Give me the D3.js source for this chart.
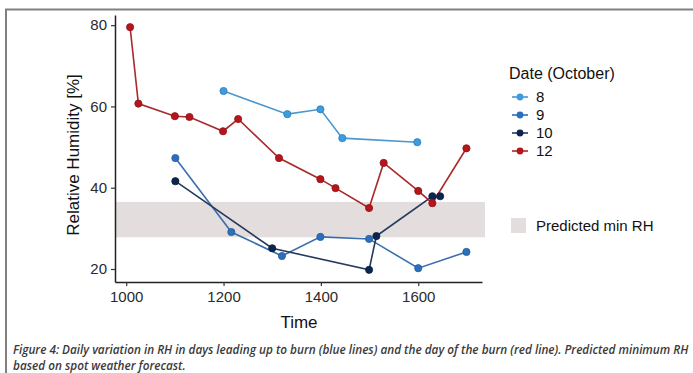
<!DOCTYPE html>
<html>
<head>
<meta charset="utf-8">
<script src="https://cdn.jsdelivr.net/npm/d3@7"></script>
<style>
  body { margin: 0; background: #fff; }
  svg { display: block; }
</style>
</head>
<body>
<div id="chart"></div>
<script>
// values
var days = ["8", "9", "10", "12"];
var dayColors = ["#3d9be0", "#2c6fbd", "#0c2550", "#b5161b"];
var lineColors = ["#4b97cf", "#3a6fae", "#253a5e", "#a82a2a"];

var time8 = [1200, 1331, 1399, 1444, 1598];
var rh8 = [63.8, 58.1, 59.3, 52.2, 51.2];
var time9 = [1101, 1216, 1320, 1399, 1499, 1600, 1699];
var rh9 = [47.3, 29.1, 23.2, 27.9, 27.4, 20.2, 24.2];
var time10 = [1101, 1300, 1499, 1514, 1629, 1645];
var rh10 = [41.6, 25.1, 19.8, 28.1, 37.9, 37.9];
var time12 = [1008, 1025, 1100, 1130, 1199, 1230, 1314, 1399, 1430, 1499, 1529, 1600, 1629, 1699];
var rh12 = [79.5, 60.7, 57.6, 57.4, 53.9, 56.9, 47.3, 42.1, 39.9, 35.0, 46.1, 39.2, 36.2, 49.7];

var bandLow = 27.8, bandHigh = 36.5;
var xTicks = [1000, 1200, 1400, 1600];
var yTicks = [20, 40, 60, 80];

var caption1 = "Figure 4: Daily variation in RH in days leading up to burn (blue lines) and the day of the burn (red line). Predicted minimum RH";
var caption2 = "based on spot weather forecast.";

var series = [
  { day: "8", t: time8, v: rh8 },
  { day: "9", t: time9, v: rh9 },
  { day: "10", t: time10, v: rh10 },
  { day: "12", t: time12, v: rh12 }
].map(function (s, i) {
  return {
    day: s.day, fill: dayColors[i], stroke: lineColors[i],
    pts: s.t.map(function (t, j) { return { t: t, v: s.v[j] }; })
  };
});

var W = 693, H = 373;
var svg = d3.select("#chart").append("svg")
  .attr("width", W).attr("height", H)
  .style("font-family", "'Liberation Sans', Arial, sans-serif");

// frame around the figure
svg.append("path")
  .attr("d", "M6," + H + "V9.5H" + W)
  .attr("fill", "none").attr("stroke", "#808080").attr("stroke-width", 2);

var x = d3.scaleLinear().domain([977, 1731]).range([115, 482]);
var y = d3.scaleLinear().domain([16.8, 82.5]).range([282, 15]);

// predicted band
svg.append("rect")
  .attr("x", 116).attr("width", 485 - 116)
  .attr("y", y(bandHigh)).attr("height", y(bandLow) - y(bandHigh))
  .attr("fill", "#e3dddd");

// axes
var xAxis = svg.append("g")
  .attr("transform", "translate(0,282)")
  .call(d3.axisBottom(x).tickValues(xTicks).tickFormat(d3.format("d"))
    .tickSize(4).tickSizeOuter(0).tickPadding(5));
var yAxis = svg.append("g")
  .attr("transform", "translate(115,0)")
  .call(d3.axisLeft(y).tickValues(yTicks).tickSize(4).tickSizeOuter(0).tickPadding(4));
[xAxis, yAxis].forEach(function (g) {
  g.select(".domain").attr("stroke", "#222").attr("stroke-width", 1.5);
  g.selectAll(".tick line").attr("stroke", "#333").attr("stroke-width", 1.2);
  g.selectAll(".tick text").attr("fill", "#2a2a2a").style("font-size", "15px")
    .style("font-family", "'Liberation Sans', Arial, sans-serif");
});

// lines and points
var line = d3.line().x(function (d) { return x(d.t); }).y(function (d) { return y(d.v); });
series.forEach(function (s) {
  svg.append("path")
    .datum(s.pts)
    .attr("d", line)
    .attr("fill", "none")
    .attr("stroke", s.stroke)
    .attr("stroke-width", 1.6);
});
series.forEach(function (s) {
  svg.append("g")
    .selectAll("circle")
    .data(s.pts)
    .enter()
    .append("circle")
    .attr("cx", function (d) { return x(d.t); })
    .attr("cy", function (d) { return y(d.v); })
    .attr("r", 3.6)
    .attr("fill", s.fill)
    .attr("stroke", d3.color(s.fill).darker(0.6))
    .attr("stroke-width", 0.8);
});

// axis titles
svg.append("text")
  .text("Time")
  .attr("x", 299).attr("y", 328)
  .attr("text-anchor", "middle")
  .style("font-size", "17px").style("fill", "#111");
svg.append("text")
  .text("Relative Humidity [%]")
  .attr("transform", "translate(79,155) rotate(-90)")
  .attr("text-anchor", "middle")
  .style("font-size", "17px").style("fill", "#111");

// legend
svg.append("text")
  .text("Date (October)")
  .attr("x", 509).attr("y", 79)
  .style("font-size", "16px").style("fill", "#111");
var leg = svg.append("g").selectAll("g")
  .data(series)
  .enter()
  .append("g")
  .attr("transform", function (d, i) { return "translate(0," + (97 + i * 18) + ")"; });
leg.append("line")
  .attr("x1", 512).attr("x2", 528)
  .attr("stroke", function (d) { return d.stroke; })
  .attr("stroke-width", 1.6);
leg.append("circle")
  .attr("cx", 520).attr("r", 3.4)
  .attr("fill", function (d) { return d.fill; });
leg.append("text")
  .text(function (d) { return d.day; })
  .attr("x", 536).attr("dy", "0.35em")
  .style("font-size", "15px").style("fill", "#111");

svg.append("rect")
  .attr("x", 511).attr("y", 218).attr("width", 15).attr("height", 15)
  .attr("fill", "#e3dddd");
svg.append("text")
  .text("Predicted min RH")
  .attr("x", 536).attr("y", 226).attr("dy", "0.35em")
  .style("font-size", "15px").style("fill", "#111");

// caption
var cap = svg.append("g")
  .style("font-family", "'Open Sans', 'Noto Sans', sans-serif")
  .style("font-style", "italic")
  .style("font-weight", 600)
  .style("fill", "#3a3a3a");
var c1 = cap.append("text").text(caption1).attr("x", 13).attr("y", 354).style("font-size", "10.5px");
var c2 = cap.append("text").text(caption2).attr("x", 13).attr("y", 369.5).style("font-size", "10.5px");
var w1 = c1.node().getComputedTextLength();
var fs = 10.5 * 676 / w1;
c1.style("font-size", fs + "px");
c2.style("font-size", fs + "px");
</script>
</body>
</html>
